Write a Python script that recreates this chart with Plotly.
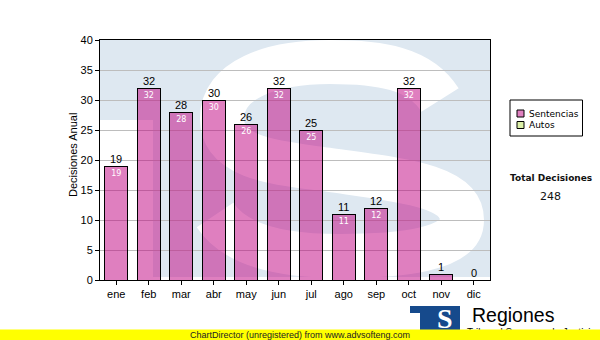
import plotly.graph_objects as go

# ---------------- data ----------------
months = ['ene', 'feb', 'mar', 'abr', 'may', 'jun', 'jul', 'ago', 'sep', 'oct', 'nov', 'dic']
sentencias = [19, 32, 28, 30, 26, 32, 25, 11, 12, 32, 1, 0]
autos = [0, 0, 0, 0, 0, 0, 0, 0, 0, 0, 0, 0]
y_ticks = [0, 5, 10, 15, 20, 25, 30, 35, 40]
total = sum(sentencias) + sum(autos)

# ---------------- geometry helpers (plot area 100..490 x 40..280 px) ----------------
PL, PR, PT, PB = 100, 490, 40, 280


def px(xp):
    return (xp - PL) / (PR - PL)


def py(yp):
    return (PB - yp) / (PB - PT)


BAR_FILL = 'rgba(192,0,128,0.5)'
WM_BLUE = '#dee8f1'
FONT_A = 'Liberation Sans, Arial, sans-serif'
FONT_V = 'DejaVu Sans, Verdana, sans-serif'

fig = go.Figure()
fig.add_trace(go.Bar(
    x=months, y=sentencias, name='Sentencias',
    marker=dict(color=BAR_FILL, line=dict(color='black', width=1)),
    width=0.72,
    texttemplate='%{y}', textposition='inside', insidetextanchor='end',
    textangle=0,
    textfont=dict(family=FONT_V, size=8, color='white'),
    showlegend=False, hoverinfo='skip',
))
fig.add_trace(go.Bar(
    x=months, y=autos, name='Autos',
    marker=dict(color='#dcf0a8', line=dict(width=0)),
    width=0.72, showlegend=False, hoverinfo='skip',
))

shapes = []
# watermark: blue "TS" logo with white S, behind grid
shapes.append(dict(type='rect', xref='paper', yref='paper', layer='below',
                   x0=px(100), x1=px(490), y0=py(120), y1=py(40),
                   fillcolor=WM_BLUE, line=dict(width=0)))
shapes.append(dict(type='rect', xref='paper', yref='paper', layer='below',
                   x0=px(153), x1=px(490), y0=py(277), y1=py(40),
                   fillcolor=WM_BLUE, line=dict(width=0)))
s_pts = [(440, 100), (420, 68), (380, 62), (330, 62), (270, 62), (222, 80), (222, 118),
         (222, 160), (280, 163), (330, 170), (400, 180), (462, 185), (462, 220),
         (462, 250), (400, 256), (340, 256), (280, 256), (235, 245), (215, 215)]
path = 'M %.4f,%.4f' % (px(s_pts[0][0]), py(s_pts[0][1]))
for i in range(1, len(s_pts), 3):
    seg = s_pts[i:i + 3]
    path += ' C ' + ' '.join('%.4f,%.4f' % (px(a), py(b)) for a, b in seg)
shapes.append(dict(type='path', xref='paper', yref='paper', layer='below', path=path,
                   line=dict(color='white', width=44)))

# custom legend
shapes.append(dict(type='rect', xref='paper', yref='paper',
                   x0=px(510), x1=px(582.5), y0=py(136), y1=py(100),
                   fillcolor='white', line=dict(color='black', width=1)))
shapes.append(dict(type='rect', xref='paper', yref='paper',
                   x0=px(517), x1=px(524), y0=py(117), y1=py(110),
                   fillcolor='#e080c0', line=dict(color='black', width=1)))
shapes.append(dict(type='rect', xref='paper', yref='paper',
                   x0=px(517), x1=px(524), y0=py(128.5), y1=py(121.5),
                   fillcolor='#dcf0a8', line=dict(color='black', width=1)))
# logo
LOGO = '#164a8c'
shapes.append(dict(type='rect', xref='paper', yref='paper',
                   x0=px(410), x1=px(460), y0=py(313), y1=py(306),
                   fillcolor=LOGO, line=dict(width=0)))
shapes.append(dict(type='rect', xref='paper', yref='paper',
                   x0=px(420), x1=px(460), y0=py(330), y1=py(313),
                   fillcolor=LOGO, line=dict(width=0)))

annotations = []
for m, v in zip(months, sentencias):
    annotations.append(dict(x=m, y=v, xref='x', yref='y', text=str(v), showarrow=False,
                            yanchor='bottom', yshift=-1,
                            font=dict(family=FONT_A, size=11, color='black')))
annotations.append(dict(x=px(73), y=py(155), xref='paper', yref='paper', text='Decisiones Anual',
                        textangle=-90, showarrow=False, xanchor='center', yanchor='middle',
                        font=dict(family=FONT_A, size=11, color='black')))
annotations.append(dict(x=px(527), y=py(113.6), xref='paper', yref='paper', text='Sentencias',
                        showarrow=False, xanchor='left', yanchor='middle',
                        font=dict(family=FONT_V, size=9, color='black')))
annotations.append(dict(x=px(527), y=py(125.3), xref='paper', yref='paper', text='Autos',
                        showarrow=False, xanchor='left', yanchor='middle',
                        font=dict(family=FONT_V, size=9, color='black')))
annotations.append(dict(x=px(551), y=py(177.7), xref='paper', yref='paper',
                        text='<b>Total Decisiones</b>', showarrow=False,
                        xanchor='center', yanchor='middle',
                        font=dict(family=FONT_V, size=9, color='#111')))
annotations.append(dict(x=px(550.5), y=py(196), xref='paper', yref='paper',
                        text=str(total), showarrow=False, xanchor='center', yanchor='middle',
                        font=dict(family=FONT_V, size=11, color='#111')))
annotations.append(dict(x=px(445), y=py(318), xref='paper', yref='paper', text='<b>S</b>',
                        showarrow=False, xanchor='center', yanchor='middle',
                        font=dict(family='Liberation Serif, serif', size=28, color='white')))
annotations.append(dict(x=px(470), y=py(315), xref='paper', yref='paper', text='Regiones',
                        showarrow=False, xanchor='left', yanchor='middle',
                        font=dict(family=FONT_A, size=19.5, color='black')))
annotations.append(dict(x=px(465), y=py(332), xref='paper', yref='paper',
                        text='Tribunal Supremo de Justicia',
                        showarrow=False, xanchor='left', yanchor='middle',
                        font=dict(family=FONT_A, size=10, color='black')))
annotations.append(dict(x=px(300), y=py(335), xref='paper', yref='paper',
                        text='ChartDirector (unregistered) from www.advsofteng.com',
                        showarrow=False, xanchor='center', yanchor='middle',
                        width=600, height=10, borderpad=0, bgcolor='#ffff00',
                        font=dict(family=FONT_A, size=9, color='#222')))

fig.update_layout(
    width=600, height=340,
    margin=dict(l=PL, r=600 - PR, t=PT, b=340 - PB, pad=0),
    paper_bgcolor='white', plot_bgcolor='white',
    barmode='stack', bargap=0.28,
    uniformtext=dict(minsize=8, mode='hide'),
    shapes=shapes, annotations=annotations,
    showlegend=False,
    xaxis=dict(type='category', showline=True, mirror=True, linecolor='black', linewidth=1,
               ticks='outside', ticklen=4, tickcolor='black', showgrid=False,
               tickfont=dict(family=FONT_A, size=11, color='black')),
    yaxis=dict(range=[0, 40], tickvals=y_ticks, showline=True, mirror=True, linecolor='black',
               linewidth=1, ticks='outside', ticklen=4, tickcolor='black',
               showgrid=True, gridcolor='#bdbdbd', gridwidth=1, zeroline=False,
               tickfont=dict(family=FONT_A, size=11, color='black')),
)

fig.write_html('out.html', config={'displayModeBar': False},
               post_script="document.body.style.margin='0';")
